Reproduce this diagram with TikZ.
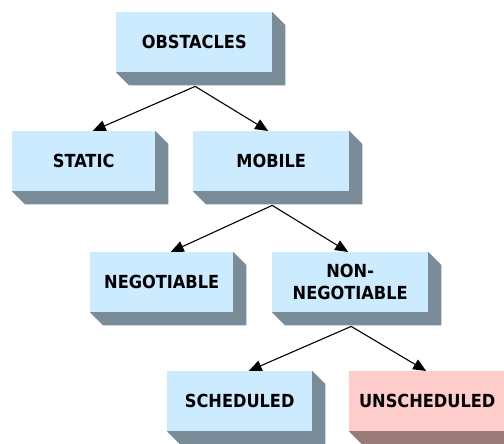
\documentclass[tikz,border=0pt]{standalone}
\usepackage{fontspec}
\setmainfont{DejaVu Sans Condensed}
\usetikzlibrary{arrows.meta,backgrounds}
\definecolor{boxblue}{HTML}{CCEBFF}
\definecolor{shadeblue}{HTML}{7B8C99}
\definecolor{boxpink}{HTML}{FFCCCC}
\definecolor{shadepink}{HTML}{997A7A}
\tikzset{
  tdbox/.style={rectangle, anchor=north west, inner sep=0pt, minimum height=60pt,
    fill=boxblue, align=center, font=\fontsize{18}{22}\selectfont\bfseries},
  pinkbox/.style={tdbox, fill=boxpink},
  conn/.style={draw=black, line width=1.1pt, -{Triangle[length=13pt,width=11pt]}},
}
\newcommand\boxdepth[2]{%
  \begin{pgfonlayer}{background}
    \fill[#2] (#1.south west) -- ([shift={(13,13)}]#1.south west) -- ([shift={(13,13)}]#1.south east)
      -- ([shift={(13,13)}]#1.north east) -- (#1.north east) -- cycle;
  \end{pgfonlayer}}
\begin{document}
\begin{tikzpicture}[x=1pt,y=-1pt]
\useasboundingbox (0,0) rectangle (504,444);
\node[tdbox, minimum width=156pt] (obst) at (116,12) {OBSTACLES};
\node[tdbox, minimum width=143pt] (static) at (12,131) {STATIC};
\node[tdbox, minimum width=156pt] (mobile) at (193,131) {MOBILE};
\node[tdbox, minimum width=143pt] (neg) at (90,252) {NEGOTIABLE};
\node[tdbox, minimum width=156pt] (nonneg) at (272,252) {NON-\\NEGOTIABLE};
\node[tdbox, minimum width=145pt] (sched) at (167,371) {SCHEDULED};
\node[pinkbox, minimum width=156pt] (unsched) at (349,371) {UNSCHEDULED};
\boxdepth{obst}{shadeblue}
\boxdepth{static}{shadeblue}
\boxdepth{mobile}{shadeblue}
\boxdepth{neg}{shadeblue}
\boxdepth{nonneg}{shadeblue}
\boxdepth{sched}{shadeblue}
\boxdepth{unsched}{shadepink}
\coordinate (o1) at ([shift={(1,14)}]obst.south);
\coordinate (o2) at ([shift={(1,14)}]mobile.south);
\coordinate (o3) at ([shift={(1,14)}]nonneg.south);
\draw[conn] (o1) -- ([shift={(9,0)}]static.north);
\draw[conn] (o1) -- ([shift={(-3,0)}]mobile.north);
\draw[conn] (o2) -- ([shift={(9,0)}]neg.north);
\draw[conn] (o2) -- ([shift={(-2,0)}]nonneg.north);
\draw[conn] (o3) -- ([shift={(9,0)}]sched.north);
\draw[conn] (o3) -- ([shift={(-1,0)}]unsched.north);
\end{tikzpicture}
\end{document}
